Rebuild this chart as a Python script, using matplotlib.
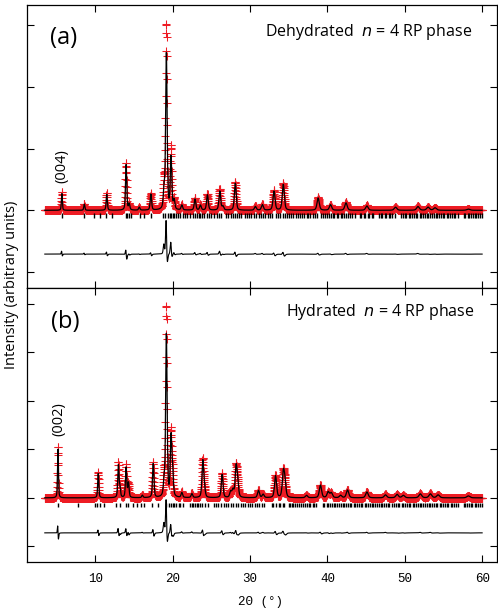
import numpy as np
import matplotlib
matplotlib.use('Agg')
import matplotlib.pyplot as plt

pos_a = [5.7, 8.6, 11.5, 14.0, 14.4, 15.7, 17.2, 18.9, 19.2, 19.8, 20.2, 21.2, 22.9, 23.6,
         24.5, 26.1, 26.5, 28.1, 30.7, 31.6, 33.1, 34.3, 38.8, 40.4, 42.4, 45.1, 48.8,
         51.7, 53.0, 53.9, 58.2]
calc_a = [0.27, 0.10, 0.26, 0.74, 0.10, 0.05, 0.26, 0.30, 2.53, 0.85, 0.15, 0.08, 0.18, 0.08,
          0.25, 0.31, 0.06, 0.44, 0.06, 0.09, 0.31, 0.42, 0.20, 0.09, 0.12, 0.07, 0.05,
          0.06, 0.05, 0.04, 0.02]
obs_a = [0.30, 0.11, 0.28, 0.77, 0.10, 0.05, 0.27, 0.45, 3.00, 1.02, 0.17, 0.09, 0.20, 0.09,
         0.27, 0.35, 0.06, 0.46, 0.07, 0.10, 0.32, 0.44, 0.21, 0.09, 0.13, 0.08, 0.05,
         0.07, 0.05, 0.04, 0.02]

pos_b = [5.2, 10.4, 13.0, 13.2, 14.0, 14.3, 16.1, 17.5, 18.9, 19.2, 19.8, 20.0, 21.2, 22.5,
         23.9, 24.1, 26.4, 27.5, 27.8, 28.2, 28.4, 31.1, 31.7, 33.3, 34.3, 34.5, 37.3, 39.1,
         40.1, 40.5, 41.7, 42.6, 45.1, 47.5, 49.0, 49.8, 52.0, 53.3, 54.3, 58.2]
calc_b = [1.00, 0.50, 0.66, 0.20, 0.62, 0.30, 0.05, 0.70, 0.25, 3.35, 1.20, 0.50, 0.10, 0.08,
          0.74, 0.20, 0.48, 0.12, 0.15, 0.60, 0.30, 0.15, 0.07, 0.45, 0.48, 0.30, 0.05, 0.26,
          0.12, 0.10, 0.05, 0.16, 0.12, 0.06, 0.07, 0.05, 0.08, 0.08, 0.06, 0.04]
obs_b = [1.07, 0.53, 0.72, 0.20, 0.68, 0.30, 0.06, 0.74, 0.45, 3.93, 1.34, 0.50, 0.12, 0.10,
         0.78, 0.20, 0.51, 0.13, 0.16, 0.64, 0.30, 0.16, 0.08, 0.47, 0.51, 0.30, 0.05, 0.27,
         0.12, 0.10, 0.05, 0.17, 0.13, 0.07, 0.07, 0.05, 0.09, 0.09, 0.06, 0.04]

# reflection positions (tick rows)
refl_a = [5.67, 8.6, 9.87, 10.65, 11.4, 12.2, 14.0, 14.15, 14.35, 14.6, 15.8, 16.3, 17.2, 18.75,
          19.05, 19.4, 19.7, 19.85, 20.0, 20.2, 20.45, 20.7, 20.95, 21.3, 21.6, 21.9, 22.3, 22.6,
          22.85, 23.1, 23.4, 23.6, 23.85, 24.1, 24.5, 24.7, 25.0, 25.4, 25.7, 26.0, 26.3, 26.9,
          27.2, 27.5, 27.8, 28.0, 28.3, 28.6, 28.9, 29.3, 29.6, 29.9, 30.1, 30.5, 30.8, 31.1,
          31.4, 31.7, 32.0, 32.3, 32.6, 32.9, 33.4, 33.6, 33.9, 34.2, 34.5, 34.8, 35.0, 35.3,
          35.6, 35.9, 36.2, 36.4, 36.7, 37.0, 37.3, 37.5, 37.8, 38.1, 38.4, 38.7, 39.2, 39.4,
          39.7, 39.9, 40.2, 40.4, 40.7, 40.9, 41.2, 41.4, 41.7, 41.9, 42.2, 42.4, 42.7, 42.9,
          43.2, 43.5, 44.2, 44.4, 44.7, 44.9, 45.2, 45.4, 45.7, 45.9, 46.6, 46.9, 47.1, 47.4,
          47.6, 47.9, 48.1, 48.4, 48.7, 49.5, 49.7, 50.0, 50.2, 50.5, 50.7, 50.9, 51.2, 51.4,
          51.6, 51.9, 52.1, 52.3, 52.6, 52.8, 53.0, 53.3, 53.5, 53.7, 54.0, 54.2, 54.4, 54.7,
          54.9, 55.1, 55.4, 55.6, 55.8, 56.1, 56.3, 56.5, 56.8, 57.6, 57.8, 58.1, 58.3, 58.5,
          58.8, 59.0, 59.2, 59.5, 59.7, 59.9]
refl_b = [5.2, 7.8, 10.0, 10.3, 10.6, 11.2, 12.7, 13.2, 14.0, 14.3, 14.9, 15.4, 15.9, 16.3,
          17.4, 18.1, 19.2, 19.6, 19.8, 20.0, 20.2, 20.5, 20.8, 21.0, 21.3, 22.3, 22.5, 22.7,
          22.9, 23.1, 23.3, 23.6, 23.8, 24.2, 24.6, 25.3, 25.6, 25.9, 26.2, 26.6, 26.9, 27.2,
          27.5, 27.8, 28.2, 28.5, 28.8, 29.1, 29.4, 29.7, 30.0, 30.3, 30.6, 30.9, 31.2, 31.5,
          31.8, 32.8, 33.0, 33.3, 33.7, 33.9, 34.2, 34.4, 35.0, 35.2, 35.4, 35.6, 35.8, 36.1,
          36.3, 36.6, 36.8, 37.1, 37.3, 37.6, 37.8, 38.1, 38.3, 38.5, 39.4, 39.6, 39.9, 40.1,
          40.3, 40.6, 40.8, 41.0, 41.3, 41.5, 41.7, 42.0, 42.2, 42.4, 42.7, 42.9, 43.1, 43.4,
          43.6, 43.8, 44.1, 44.3, 44.5, 44.8, 45.0, 45.2, 45.5, 45.7, 45.9, 46.2, 46.4, 46.6,
          46.9, 47.1, 47.3, 47.6, 47.8, 48.0, 48.4, 48.6, 48.9, 49.1, 49.3, 49.6, 49.8, 50.0,
          50.3, 50.5, 50.7, 51.0, 51.2, 51.4, 51.7, 51.9, 52.1, 52.4, 52.6, 52.8, 53.1, 53.3,
          53.5, 53.8, 54.0, 54.2, 54.5, 54.7, 54.9, 55.2, 55.4, 55.6, 55.9, 56.1, 56.3, 56.6,
          56.8, 57.6, 57.8, 58.0, 58.3, 58.5, 58.7, 59.0, 59.2, 59.4, 59.7, 59.9]

tth = np.arange(3.5, 60.0, 0.02)


def profile(pos, hgt, narrow=1.0, shift=0.0):
    y = np.zeros_like(tth)
    for p, h in zip(pos, hgt):
        w = (0.11 + 0.006 * p) * narrow
        d = (tth - p - shift) / w
        y += h * (0.55 * np.exp(-4 * np.log(2) * d ** 2) + 0.45 / (1 + 4 * d ** 2))
    return y


fig = plt.figure(figsize=(4.98, 6.11), dpi=100)
W, H = 498, 611
ax_a = fig.add_axes([27 / W, 1 - 288 / H, 470 / W, 283 / H])
ax_b = fig.add_axes([27 / W, 1 - 562 / H, 470 / W, 274 / H])

panels = [(ax_a, pos_a, calc_a, obs_a, refl_a, (-1.26, 3.33), [-1, 0, 1, 2, 3], -0.71, (-0.05, -0.13)),
          (ax_b, pos_b, calc_b, obs_b, refl_b, (-1.32, 4.32), [-1, 0, 1, 2, 3, 4], -0.72, (-0.10, -0.19))]

for ax, pos, calc, obs, refl, ylim, yt, doff, trow in panels:
    ycalc = profile(pos, calc)
    yobs = profile(pos, obs, narrow=0.92, shift=-0.012)
    ax.plot(tth, yobs, '+', color='#ee1c24', ms=5.5, mew=0.75, zorder=2)
    ax.plot(tth, ycalc, '-', color='k', lw=0.9, zorder=3)
    ax.plot(tth, yobs - ycalc + doff, '-', color='k', lw=0.8)
    ax.vlines(refl, trow[1], trow[0], color='k', lw=1.0)
    ax.set_xlim(1.2, 61.9)
    ax.set_ylim(*ylim)
    ax.set_yticks(yt)
    ax.set_yticklabels([])
    ax.set_xticks([10, 20, 30, 40, 50, 60])
    ax.tick_params(direction='in', top=True, right=True, length=5, width=0.8)
    for s in ax.spines.values():
        s.set_linewidth(0.9)

ax_a.set_xticklabels([])
ax_b.set_xticklabels(['10', '20', '30', '40', '50', '60'], family='Liberation Mono', fontsize=9)
ax_b.tick_params(axis='x', pad=8)

txt = dict(family='Open Sans')
fig.text(64 / W, 1 - 38 / H, '(a)', fontsize=17, ha='center', va='center', **txt)
fig.text(65 / W, 1 - 322 / H, '(b)', fontsize=17, ha='center', va='center', **txt)
fig.text(472 / W, 1 - 32 / H, 'Dehydrated  $n$ = 4 RP phase', fontsize=11.5, ha='right', va='center', **txt)
fig.text(475 / W, 1 - 312 / H, 'Hydrated  $n$ = 4 RP phase', fontsize=11.5, ha='right', va='center', **txt)
fig.text(62 / W, 1 - 166 / H, '(004)', fontsize=10.5, rotation=90, ha='center', va='center', **txt)
fig.text(59 / W, 1 - 419 / H, '(002)', fontsize=10.5, rotation=90, ha='center', va='center', **txt)
fig.text(12 / W, 1 - 285 / H, 'Intensity (arbitrary units)', fontsize=10.5, rotation=90,
         ha='center', va='center', **txt)
fig.text(260 / W, 1 - 602 / H, '2\u0398 (\u00b0)', fontsize=9, ha='center', va='center',
         family='Liberation Mono')

fig.savefig('out.png', dpi=100)
